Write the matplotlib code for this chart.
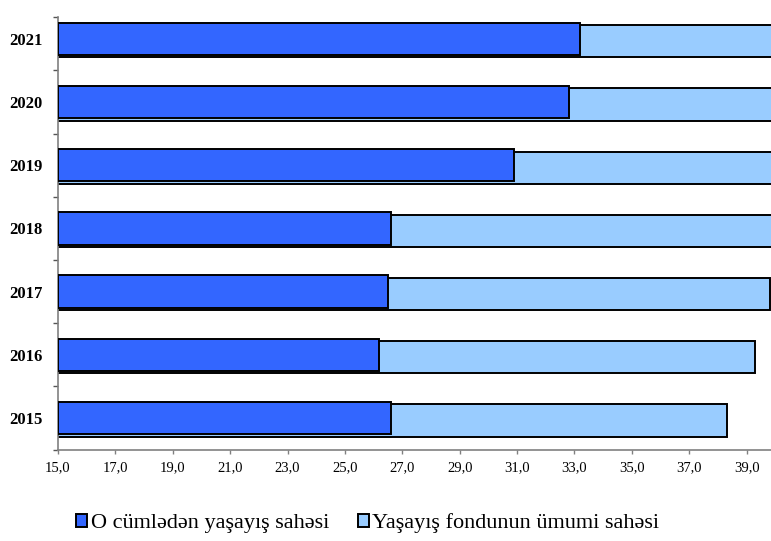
import matplotlib.pyplot as plt
from matplotlib.patches import Patch
import numpy as np

years = ['2015', '2016', '2017', '2018', '2019', '2020', '2021']
# O cümlədən yaşayış sahəsi
living = [26.6, 26.2, 26.5, 26.6, 30.9, 32.8, 33.2]
# Yaşayış fondunun ümumi sahəsi (2018-2021 are cut off on the right)
total = [38.3, 39.3, 39.8, 40.5, 41.8, 42.6, 43.4]
xticks = np.arange(15, 40, 2)

dark = '#3366FF'
light = '#99CCFF'
axcol = '#808080'

plt.rcParams['font.family'] = ['Liberation Serif', 'DejaVu Serif']

fig = plt.figure(figsize=(7.71, 5.41), dpi=100)
ax = fig.add_axes([58 / 771, (541 - 449.6) / 541, 713 / 771, (449.6 - 17) / 541])

y = np.arange(len(years))
h = 0.51
ax.barh(y - 0.04, np.array(total) - 15, left=15, height=h, color=light,
        edgecolor='black', linewidth=1.4, zorder=2)
ax.barh(y, np.array(living) - 15, left=15, height=h, color=dark,
        edgecolor='black', linewidth=1.4, zorder=3)

ax.set_xlim(15, 39.85)
ax.set_ylim(-0.5, 6.345)

ax.set_xticks(xticks)
ax.set_xticklabels([f'{v:.1f}'.replace('.', ',') for v in xticks], fontsize=10.5)
ax.tick_params(axis='x', direction='out', length=3, width=1, color=axcol, pad=5)

ax.set_yticks(y)
ax.set_yticklabels(years, fontsize=12, fontweight='bold')
ax.tick_params(axis='y', which='major', length=0, pad=11)
ax.set_yticks(list(np.arange(-0.5, 6, 1.0)) + [6.345], minor=True)
ax.tick_params(axis='y', which='minor', direction='out', length=3.6, width=1, color='#555555')

for s in ['top', 'right']:
    ax.spines[s].set_visible(False)
for s in ['left', 'bottom']:
    ax.spines[s].set_color(axcol)
    ax.spines[s].set_linewidth(1.2)

handles = [Patch(facecolor=dark, edgecolor='black', linewidth=1.4),
           Patch(facecolor=light, edgecolor='black', linewidth=1.4)]
fig.legend(handles, ['O cümlədən yaşayış sahəsi', 'Yaşayış fondunun ümumi sahəsi'],
           loc='center', bbox_to_anchor=(0.477, 0.033), ncol=2, frameon=False,
           fontsize=16, handlelength=0.5, handleheight=0.5, handletextpad=0.15,
           columnspacing=1.3, borderpad=0)

fig.savefig('out.png', dpi=100)
